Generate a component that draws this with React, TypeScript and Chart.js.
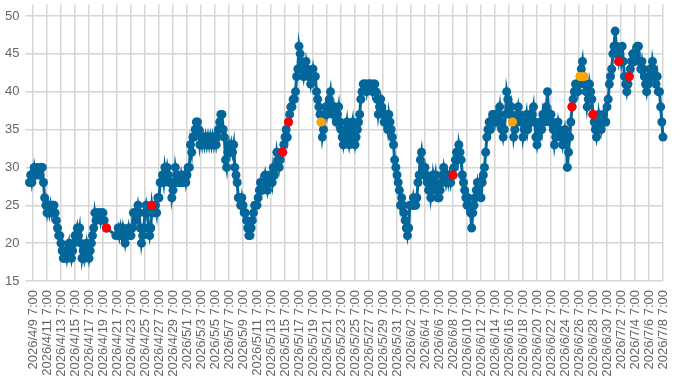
import { useEffect, useRef } from "react";
import { Chart, registerables } from "chart.js";

Chart.register(...registerables);

// Time axis in hours relative to 2026/4/9 7:00; readings every 4 hours, first one 2026/4/8 19:00
const startHour = -12;
const stepHours = 4;

// One row per day (6 readings), null = no reading
const readings: (number | null)[] = [
  28, 29, 28,
  29, 30, 29, 30, 30, 29, // 4/9
  29, 30, 30, 28, 26, 25,
  24, 25, 24, 25, 24, 25, // 4/11
  25, 24, 23, 22, 21, 21,
  20, 19, 18, 18, 19, 18, // 4/13
  19, 20, 19, 18, 19, 20,
  21, 21, 22, 21, 22, 20, // 4/15
  18, 19, 18, 19, 20, 19,
  18, 19, 20, 21, 22, 24, // 4/17
  23, 24, 24, 24, 23, 24,
  24, 23, null, 22, null, null, // 4/19
  null, null, null, null, null, 21,
  null, 22, 21, 22, 21, 22, // 4/21
  21, 20, 21, 21, 22, 21,
  21, 22, 24, 24, 23, 24, // 4/23
  25, 24, 22, 20, 21, 22,
  24, 25, 24, 22, 21, 22, // 4/25
  25, 24, 24, 25, 24, 26,
  26, 28, 28, 29, 28, 30, // 4/27
  29, 30, 29, 28, 28, 26,
  27, 28, 30, 29, 28, 28, // 4/29
  28, 29, 28, 28, 29, 28,
  29, 30, 30, 33, 32, 34, // 5/1
  34, 35, 36, 36, 35, 33,
  34, 33, 34, 33, 34, 33, // 5/3
  34, 33, 34, 33, 34, 33,
  34, 33, 34, 35, 36, 37, // 5/5
  37, 35, 34, 31, 30, 32,
  33, 32, 33, 32, 33, 30, // 5/7
  29, 28, 26, 26, 25, 26,
  25, 24, 24, 23, 22, 21, // 5/9
  21, 22, 23, 24, 25, 25,
  25, 26, 27, 28, 27, 27, // 5/11
  28, 29, 28, 27, 28, 29,
  29, 28, 30, 29, 30, 32, // 5/13
  31, 30, 31, 32, 32, 33,
  34, 35, 34, 36, 37, 38, // 5/15
  38, 39, 39, 40, 42, 43,
  46, 45, 44, 43, 42, 43, // 5/17
  44, 43, 42, 42, 41, 42,
  43, 42, 42, 40, 39, 38, // 5/19
  37, 36, 34, 35, 37, 38,
  37, 38, 39, 40, 38, 37, // 5/21
  38, 37, 36, 37, 38, 36,
  35, 34, 33, 34, 35, 36, // 5/23
  34, 33, 34, 35, 36, 34,
  33, 34, 35, 36, 37, 39, // 5/25
  40, 41, 41, 41, 40, 41,
  41, 41, 41, 40, 41, 41, // 5/27
  40, 39, 37, 38, 39, 38,
  37, 36, 37, 36, 35, 37, // 5/29
  36, 35, 34, 33, 31, 30,
  29, 28, 27, 25, 26, 25, // 5/31
  24, 23, 22, 21, 22, 25,
  25, 25, 26, 25, 25, 26, // 6/2
  28, 29, 31, 32, 30, 29,
  30, 29, 28, 27, 28, 26, // 6/4
  27, 29, 28, 29, 27, 26,
  26, 27, 28, 29, 30, 29, // 6/6
  28, 29, 28, 29, 28, 29,
  29, 30, 31, 32, 31, 33, // 6/8
  32, 31, 29, 28, 27, 26,
  25, 26, 25, 24, 22, 24, // 6/10
  25, 26, 27, 28, 27, 28,
  26, 28, 29, 30, 32, 34, // 6/12
  35, 36, 35, 36, 37, 37,
  36, 37, 36, 37, 38, 36, // 6/14
  35, 34, 35, 37, 40, 39,
  38, 37, 38, 36, 34, 35, // 6/16
  36, 37, 38, 37, 36, 36,
  34, 35, 36, 37, 35, 36, // 6/18
  37, 36, 37, 38, 36, 34,
  33, 34, 35, 36, 35, 37, // 6/20
  36, 37, 38, 40, 37, 36,
  37, 36, 35, 33, 34, 35, // 6/22
  36, 35, 34, 34, 33, 34,
  35, 34, 30, 32, 34, 36, // 6/24
  38, 39, 40, 41, 41, 40,
  41, 42, 43, 44, 42, 41, // 6/26
  40, 38, 39, 41, 40, 39,
  37, 36, 35, 34, 35, 37, // 6/28
  36, 35, 36, 37, 36, 36,
  38, 39, 41, 42, 43, 45, // 6/30
  46, 48, 46, 45, 44, 45,
  44, 46, 44, 42, 41, 40, // 7/2
  41, 42, 43, 44, 45, 44,
  44, 45, 46, 46, 44, 43, // 7/4
  44, 43, 42, 41, 40, 41,
  42, 43, 42, 44, 43, 42, // 7/6
  41, 42, 40, 40, 38, 36,
  34, // 7/8
];

// Highlighted readings (hours relative to 2026/4/9 7:00)
const redHours = [252, 408, 856, 876, 1440, 1848, 1920, 2008, 2044];
const redValues = [22, 25, 32, 36, 29, 38, 37, 44, 42];
const orangeHours = [988, 1644, 1876, 1888];
const orangeValues = [36, 36, 42, 42];

const tickStepHours = 48;
const tickLabels = [
  "2026/4/9 7:00", "2026/4/11 7:00", "2026/4/13 7:00", "2026/4/15 7:00", "2026/4/17 7:00",
  "2026/4/19 7:00", "2026/4/21 7:00", "2026/4/23 7:00", "2026/4/25 7:00", "2026/4/27 7:00",
  "2026/4/29 7:00", "2026/5/1 7:00", "2026/5/3 7:00", "2026/5/5 7:00", "2026/5/7 7:00",
  "2026/5/9 7:00", "2026/5/11 7:00", "2026/5/13 7:00", "2026/5/15 7:00", "2026/5/17 7:00",
  "2026/5/19 7:00", "2026/5/21 7:00", "2026/5/23 7:00", "2026/5/25 7:00", "2026/5/27 7:00",
  "2026/5/29 7:00", "2026/5/31 7:00", "2026/6/2 7:00", "2026/6/4 7:00", "2026/6/6 7:00",
  "2026/6/8 7:00", "2026/6/10 7:00", "2026/6/12 7:00", "2026/6/14 7:00", "2026/6/16 7:00",
  "2026/6/18 7:00", "2026/6/20 7:00", "2026/6/22 7:00", "2026/6/24 7:00", "2026/6/26 7:00",
  "2026/6/28 7:00", "2026/6/30 7:00", "2026/7/2 7:00", "2026/7/4 7:00", "2026/7/6 7:00",
  "2026/7/8 7:00",
];

const yTickValues = [15, 20, 25, 30, 35, 40, 45, 50];
const yMin = 15;
const yMax = 51.5;

const BLUE = "#04679b";
const RED = "#ff0000";
const ORANGE = "#ffa500";
const GRID = "#d6d6d6";
const FONT = { family: "'Liberation Sans', Arial, sans-serif", size: 13 };

export default function App() {
  const ref = useRef<HTMLCanvasElement>(null);

  useEffect(() => {
    const canvas = ref.current;
    if (!canvas) return;
    const lastHour = startHour + (readings.length - 1) * stepHours;
    const chart = new Chart(canvas, {
      type: "line",
      data: {
        datasets: [
          {
            data: redHours.map((h, i) => ({ x: h, y: redValues[i] })),
            showLine: false,
            pointRadius: 4.6,
            pointHoverRadius: 4.6,
            pointBackgroundColor: RED,
            pointBorderWidth: 0,
            borderColor: RED,
            clip: 8,
          },
          {
            data: orangeHours.map((h, i) => ({ x: h, y: orangeValues[i] })),
            showLine: false,
            pointRadius: 4.6,
            pointHoverRadius: 4.6,
            pointBackgroundColor: ORANGE,
            pointBorderWidth: 0,
            borderColor: ORANGE,
            clip: 8,
          },
          {
            data: readings.map((v, i) => ({ x: startHour + i * stepHours, y: v })),
            borderColor: BLUE,
            borderWidth: 3,
            pointRadius: 4.5,
            pointHoverRadius: 4.5,
            pointBackgroundColor: BLUE,
            pointBorderWidth: 0,
            spanGaps: true,
            tension: 0,
            clip: 8,
          },
        ],
      } as any,
      options: {
        animation: false,
        responsive: false,
        maintainAspectRatio: false,
        layout: { padding: { left: 0, right: 37, top: 1.5, bottom: 0 } },
        plugins: { legend: { display: false }, tooltip: { enabled: false } },
        scales: {
          x: {
            type: "linear",
            min: startHour,
            max: lastHour,
            afterBuildTicks: (s: any) => {
              s.ticks = tickLabels.map((_, k) => ({ value: k * tickStepHours }));
            },
            afterFit: (s: any) => {
              s.height = 99;
              s.paddingLeft = 0;
              s.paddingRight = 0;
            },
            ticks: {
              autoSkip: false,
              minRotation: 90,
              maxRotation: 90,
              padding: 9,
              color: "#666",
              font: FONT,
              callback: (_v: any, i: number) => tickLabels[i],
            },
            grid: { color: GRID, lineWidth: 1.5, drawTicks: false },
            border: { display: false },
          },
          y: {
            min: yMin,
            max: yMax,
            afterBuildTicks: (s: any) => {
              s.ticks = yTickValues.map((v) => ({ value: v }));
            },
            afterFit: (s: any) => {
              s.width = 29.5;
              s.paddingTop = 0;
              s.paddingBottom = 0;
            },
            ticks: { autoSkip: false, padding: 6, color: "#666", font: FONT },
            grid: { color: GRID, lineWidth: 1.5, tickLength: 4 },
            border: { display: false },
          },
        },
      } as any,
    });
    return () => chart.destroy();
  }, []);

  return (
    <div style={{ position: "fixed", left: 0, top: 0, width: 700, height: 380, background: "#fff" }}>
      <canvas ref={ref} width={700} height={380} style={{ display: "block" }} />
    </div>
  );
}
